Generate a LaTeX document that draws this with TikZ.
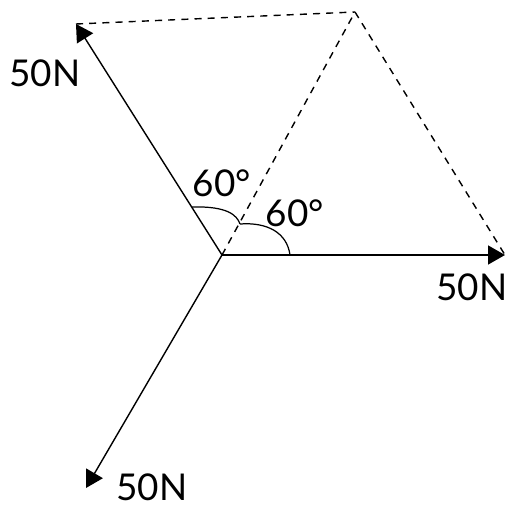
\documentclass[tikz,border=0pt]{standalone}
\usepackage{fontspec}
\setmainfont{Lato}
\usetikzlibrary{arrows.meta}

\begin{document}
\begin{tikzpicture}[
    every node/.style={font=\fontsize{21}{24}\selectfont},
    force/.style={line width=0.8pt, -{Triangle[length=3.4mm,width=3.8mm]}},
    guide/.style={line width=0.8pt, dash pattern=on 4pt off 3.5pt},
    angarc/.style={line width=0.7pt}
]
\useasboundingbox (-4.44,-5.06) rectangle (5.7,5.1);

% Point of application and resultant apex
\coordinate (O) at (0,0);
\coordinate (pr) at (5.66,0);
\coordinate (pu) at (-2.92,4.62);
\coordinate (pd) at (-2.72,-4.66);
\coordinate (apex) at (2.66,4.86);

% Parallelogram guides
\draw[guide] (pu) -- (apex);
\draw[guide] (apex) -- (pr);
\draw[guide] (O) -- (apex);

% Forces
\draw[force] (O) -- (pr);
\draw[force] (O) -- (pu);
\draw[force] (O) -- (pd);

% Angle marks
\coordinate (a1) at (-0.6,0.96);
\coordinate (b1) at (0.36,0.62);
\coordinate (c1) at (1.36,0);
\draw[angarc] (a1) .. controls (0.1,0.98) and (0.3,0.8) .. (b1);
\draw[angarc] (b1) .. controls (0.9,0.66) and (1.3,0.45) .. (c1);

% Labels
\node (fu) at (-3.54,3.64) {50N};
\node (fr) at (5.0,-0.64) {50N};
\node (fd) at (-1.4,-4.64) {50N};
\node (ang1) at (0,1.44) {60\textdegree};
\node (ang2) at (1.46,0.84) {60\textdegree};
\end{tikzpicture}
\end{document}
